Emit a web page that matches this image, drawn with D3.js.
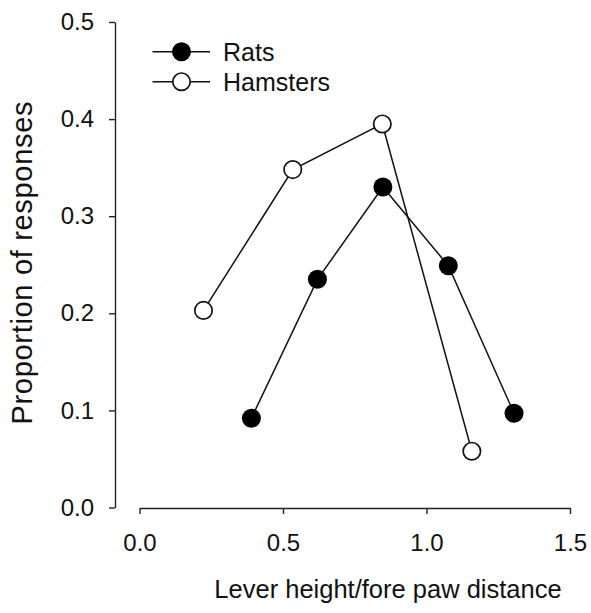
<!DOCTYPE html>
<html>
<head>
<meta charset="utf-8">
<script src="https://cdn.jsdelivr.net/npm/d3@7"></script>
<style>
  html, body { margin: 0; padding: 0; background: #fff; }
  svg { display: block; font-family: "Liberation Sans", Arial, sans-serif; }
</style>
</head>
<body>
<div id="chart"></div>
<script>
// --- Dados ---
const ratX = [0.39, 0.62, 0.848, 1.076, 1.305];
const ratY = [0.092, 0.235, 0.330, 0.249, 0.097];
const hamsterX = [0.223, 0.534, 0.846, 1.158];
const hamsterY = [0.203, 0.348, 0.395, 0.058];
const xTicks = [0, 0.5, 1.0, 1.5];
const yTicks = [0, 0.1, 0.2, 0.3, 0.4, 0.5];
const seriesNames = ["Rats", "Hamsters"];

const W = 591, H = 613;

const svg = d3.select("#chart").append("svg")
  .attr("width", W)
  .attr("height", H);

const x = d3.scaleLinear().domain([0, 1.5]).range([139.5, 570]);
const y = d3.scaleLinear().domain([0, 0.5]).range([507.5, 22]);

// eixo y (deslocado à esquerda do eixo x)
const yAxis = svg.append("g")
  .attr("transform", "translate(115,0)")
  .call(d3.axisLeft(y).tickValues(yTicks).tickFormat(d3.format(".1f"))
    .tickSize(6).tickSizeOuter(0).tickPadding(15));

// eixo x
const xAxis = svg.append("g")
  .attr("transform", "translate(0,508)")
  .call(d3.axisBottom(x).tickValues(xTicks).tickFormat(d3.format(".1f"))
    .tickSize(6).tickSizeOuter(0).tickPadding(20));

[yAxis, xAxis].forEach(g => {
  g.selectAll("path, line").attr("stroke", "#222").attr("stroke-width", 1.4);
  g.selectAll("text").attr("fill", "#111").style("font-size", "24px")
    .style("font-family", "'Liberation Sans', Arial, sans-serif");
});

// títulos
svg.append("text")
  .attr("x", 388)
  .attr("y", 598)
  .attr("text-anchor", "middle")
  .attr("fill", "#111")
  .style("font-size", "25.5px")
  .text("Lever height/fore paw distance");

svg.append("text")
  .attr("transform", "translate(32,263) rotate(-90)")
  .attr("text-anchor", "middle")
  .attr("fill", "#111")
  .attr("textLength", 323)
  .attr("lengthAdjust", "spacing")
  .style("font-size", "29px")
  .text("Proportion of responses");

// séries
const rats = ratX.map((v, i) => [v, ratY[i]]);
const hamsters = hamsterX.map((v, i) => [v, hamsterY[i]]);

const line = d3.line().x(d => x(d[0])).y(d => y(d[1]));

svg.append("path").datum(hamsters)
  .attr("d", line).attr("fill", "none")
  .attr("stroke", "#111").attr("stroke-width", 1.5);

svg.append("path").datum(rats)
  .attr("d", line).attr("fill", "none")
  .attr("stroke", "#111").attr("stroke-width", 1.5);

svg.selectAll("circle.hamster").data(hamsters).enter()
  .append("circle").attr("class", "hamster")
  .attr("cx", d => x(d[0])).attr("cy", d => y(d[1]))
  .attr("r", 8.7)
  .attr("fill", "#fff").attr("stroke", "#111").attr("stroke-width", 1.7);

svg.selectAll("circle.rat").data(rats).enter()
  .append("circle").attr("class", "rat")
  .attr("cx", d => x(d[0])).attr("cy", d => y(d[1]))
  .attr("r", 9.5)
  .attr("fill", "#000");

// legenda
const legend = svg.append("g");
seriesNames.forEach((name, i) => {
  const ly = 51.7 + i * 30;
  legend.append("line")
    .attr("x1", 152.5).attr("x2", 210)
    .attr("y1", ly).attr("y2", ly)
    .attr("stroke", "#111").attr("stroke-width", 1.5);
  legend.append("circle")
    .attr("cx", 181.5).attr("cy", ly)
    .attr("r", i === 0 ? 9.5 : 8.7)
    .attr("fill", i === 0 ? "#000" : "#fff")
    .attr("stroke", i === 0 ? "none" : "#111")
    .attr("stroke-width", 1.7);
  legend.append("text")
    .attr("x", 223)
    .attr("y", ly + 9.5)
    .attr("fill", "#111")
    .style("font-size", "25px")
    .text(name);
});
</script>
</body>
</html>
